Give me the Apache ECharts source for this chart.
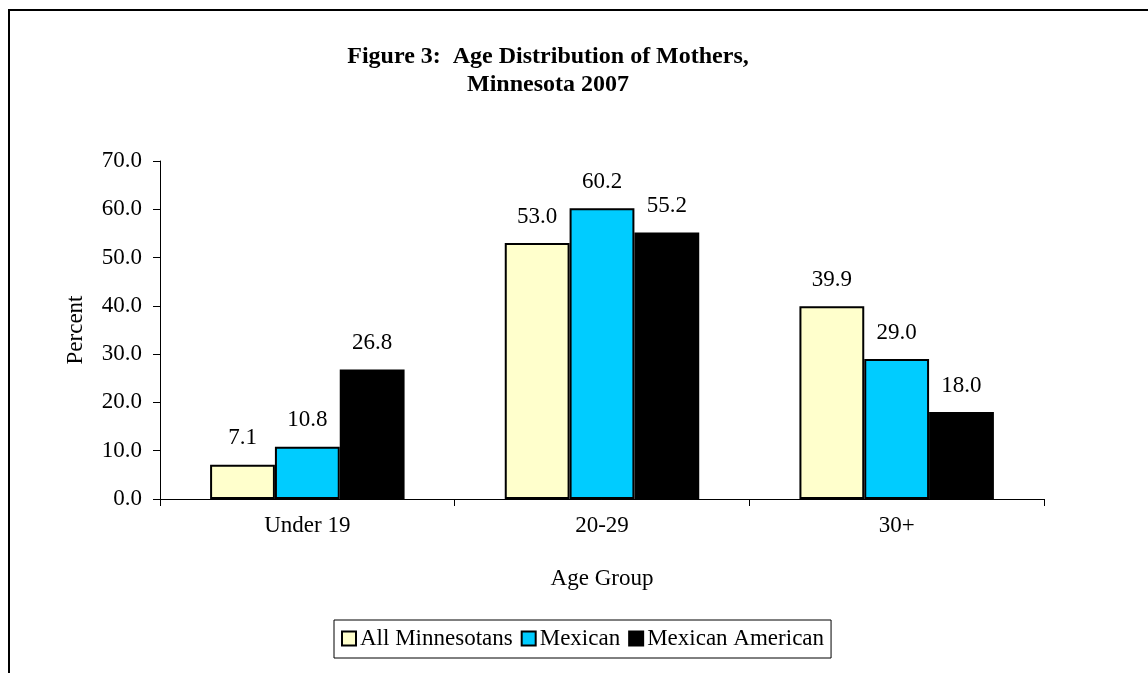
<!DOCTYPE html>
<html>
<head>
<meta charset="utf-8">
<script src="https://cdn.jsdelivr.net/npm/echarts@6/dist/echarts.min.js"></script>
<style>
  html, body { margin: 0; padding: 0; background: #fff; }
  #main { width: 1148px; height: 673px; }
</style>
</head>
<body>
<div id="main"></div>
<script>
  // data
  var ageGroups = ['Under 19', '20-29', '30+'];
  var allMinnesotans = [7.1, 53.0, 39.9];
  var mexican = [10.8, 60.2, 29.0];
  var mexicanAmerican = [26.8, 55.2, 18.0];
  var seriesNames = ['All Minnesotans', 'Mexican', 'Mexican American'];
  var seriesColors = ['#ffffcc', '#00ccff', '#000000'];

  var font = '"Liberation Serif", "Times New Roman", serif';
  var chart = echarts.init(document.getElementById('main'));
  window.addEventListener('resize', chart.resize);

  function barSeries(i, values) {
    return {
      name: seriesNames[i],
      type: 'bar',
      data: values,
      barGap: '0%',
      barCategoryGap: '34%',
      itemStyle: { color: seriesColors[i], borderColor: '#000', borderWidth: 2 },
      label: {
        show: true,
        position: 'top',
        distance: 15,
        color: '#000',
        fontFamily: font,
        fontSize: 23,
        formatter: function (p) { return p.value.toFixed(1); }
      }
    };
  }

  chart.setOption({
    animation: false,
    textStyle: { fontFamily: font },
    graphic: [
      {
        type: 'rect',
        shape: { x: 9, y: 10, width: 1200, height: 700 },
        style: { fill: 'none', stroke: '#000', lineWidth: 2 },
        silent: true
      },
      {
        type: 'text',
        x: 548,
        y: 43,
        style: {
          text: 'Figure 3:  Age Distribution of Mothers,\nMinnesota 2007',
          textAlign: 'center',
          fontFamily: font,
          fontWeight: 'bold',
          fontSize: 24,
          lineHeight: 28,
          fill: '#000'
        }
      }
    ],
    legend: {
      data: seriesNames,
      left: 334,
      top: 620,
      icon: 'rect',
      itemWidth: 14,
      itemHeight: 14,
      itemGap: 8,
      padding: [7, 7, 8, 7],
      borderColor: '#000',
      borderWidth: 1,
      itemStyle: { borderColor: '#000', borderWidth: 2 },
      textStyle: { color: '#000', fontFamily: font, fontSize: 23, padding: [0, 0, 0, -1] }
    },
    grid: { left: 160, right: 104, top: 161, bottom: 174 },
    xAxis: {
      type: 'category',
      data: ageGroups,
      name: 'Age Group',
      nameLocation: 'middle',
      nameGap: 68,
      nameTextStyle: { color: '#000', fontFamily: font, fontSize: 23 },
      axisLine: { lineStyle: { color: '#000', width: 1 } },
      axisTick: { show: true, length: 7, lineStyle: { color: '#000' } },
      axisLabel: { color: '#000', fontFamily: font, fontSize: 23, margin: 15 }
    },
    yAxis: {
      type: 'value',
      min: 0,
      max: 70,
      interval: 10,
      name: 'Percent',
      nameLocation: 'middle',
      nameGap: 73,
      nameTextStyle: { color: '#000', fontFamily: font, fontSize: 23 },
      splitLine: { show: false },
      axisLine: { show: true, lineStyle: { color: '#000', width: 1 } },
      axisTick: { show: true, length: 7, lineStyle: { color: '#000' } },
      axisLabel: {
        color: '#000',
        fontFamily: font,
        fontSize: 23,
        margin: 18,
        formatter: function (v) { return v.toFixed(1); }
      }
    },
    series: [
      barSeries(0, allMinnesotans),
      barSeries(1, mexican),
      barSeries(2, mexicanAmerican)
    ]
  });
</script>
</body>
</html>
